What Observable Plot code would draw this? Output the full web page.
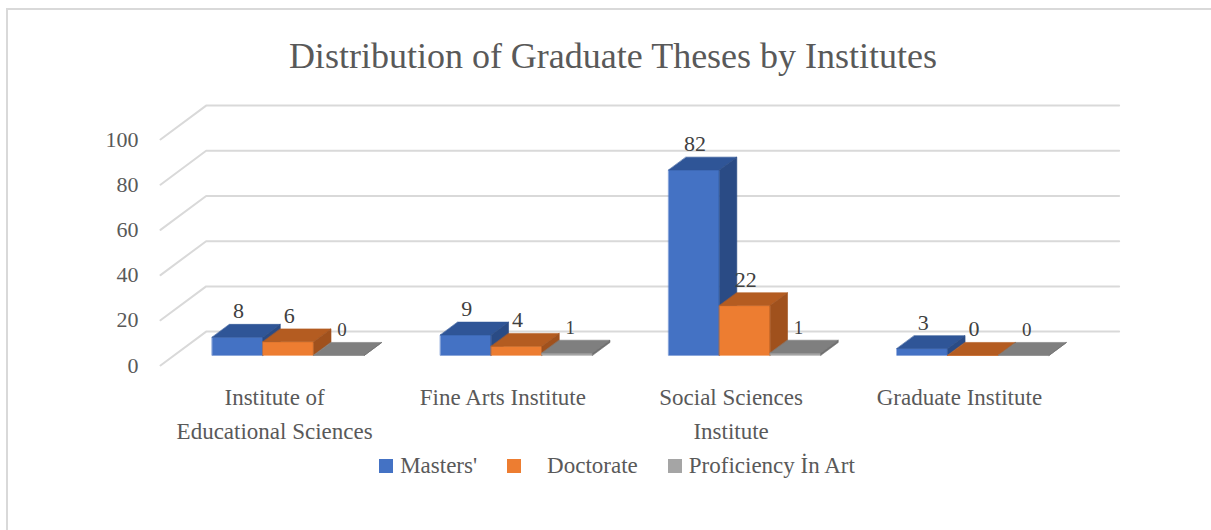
<!DOCTYPE html>
<html><head><meta charset="utf-8">
<script src="https://cdn.jsdelivr.net/npm/d3@7"></script>
<script src="https://cdn.jsdelivr.net/npm/@observablehq/plot@0.6"></script>
<style>
html,body{margin:0;padding:0;background:#fff;width:1211px;height:530px;overflow:hidden;}
*{font-family:"Liberation Serif","DejaVu Serif",serif;}
#frame{position:absolute;left:6px;top:8px;width:1300px;height:600px;border-left:2px solid #d9d9d9;border-top:2px solid #d9d9d9;box-sizing:border-box;}
#title{position:absolute;left:0;width:1226px;top:35px;text-align:center;font-size:36px;line-height:42px;color:#595959;}
#chart{position:absolute;left:0;top:90px;}
#legend{position:absolute;left:0;width:1234px;top:454px;height:24px;display:flex;justify-content:center;align-items:center;font-size:23px;color:#595959;}
.sw{width:14px;height:14px;display:inline-block;margin-right:7px;}
.item{display:flex;align-items:center;margin:0 15px;}
</style></head>
<body>
<div id="frame"></div>
<div id="title">Distribution of Graduate Theses by Institutes</div>
<div id="chart"></div>
<div id="legend"></div>
<script>
// ---- data ----
const categories = ["Institute of\nEducational Sciences", "Fine Arts Institute", "Social Sciences\nInstitute", "Graduate Institute"];
const seriesNames = ["Masters'", "Doctorate", "Proficiency İn Art"];
const masters = [8, 9, 82, 3];
const doctorate = [6, 4, 22, 0];
const proficiency = [0, 1, 1, 0];
const yTicks = [0, 20, 40, 60, 80, 100];

// ---- styles ----
const SERIF = "'Liberation Serif', 'DejaVu Serif', serif";
const SANS = "'Liberation Sans', 'DejaVu Sans', sans-serif";
const frontColors = ["#4472C4", "#ED7D31", "#A5A5A5"];
const topColors = ["#2F5597", "#B45C21", "#7F7F7F"];
const sideColors = ["#2A4B85", "#A0511D", "#6F6F6F"];

const seriesValues = [masters, doctorate, proficiency];

// oblique projection: depth d in [0,1] shifts x (category units) and y (value units)
const DX = 0.2, DY = 15;
const F1 = 0.3, F2 = 0.68;
const P = (x, v, d) => ({x: x + d * DX, y: v + d * DY});

const polys = [];
const labels = [];
let pid = 0;
categories.forEach((c, i) => {
  seriesValues.forEach((vals, j) => {
    const v = vals[i];
    const x0 = i + 1/6 + j * 2/9, x1 = x0 + 2/9;
    const add = (pts, fill) => { pid++; pts.forEach(p => polys.push({...p, id: pid, fill})); };
    add([P(x0,0,F1), P(x1,0,F1), P(x1,v,F1), P(x0,v,F1)], frontColors[j]);
    add([P(x0,v,F1), P(x1,v,F1), P(x1,v,F2), P(x0,v,F2)], topColors[j]);
    add([P(x1,0,F1), P(x1,0,F2), P(x1,v,F2), P(x1,v,F1)], sideColors[j]);
    const q = P((x0 + x1) / 2, v, F1);
    labels.push({x: q.x, y: q.y, text: String(v), j});
  });
});

const grid = [];
yTicks.forEach(t => { [P(0,t,0), P(0,t,1), P(4,t,1)].forEach(p => grid.push({...p, t})); });

const catLines = [];
categories.forEach((c, i) => c.split("\n").forEach((s, k) => catLines.push({x: i + 0.5, y: 0, text: s, k})));

const chart = Plot.plot({
  width: 1211, height: 355,
  marginLeft: 160, marginRight: 0, marginTop: 0, marginBottom: 0,
  x: {domain: [0, 4], range: [160, 1073], axis: null},
  y: {domain: [0, 100], range: [275, 49]},
  color: {type: "identity"},
  style: {fontFamily: SERIF, fontSize: "22px", color: "#595959", background: "transparent", overflow: "visible"},
  marks: [
    Plot.line(grid, {x: "x", y: "y", z: "t", stroke: "#d9d9d9", strokeWidth: 2}),
    Plot.axisY(yTicks, {anchor: "left", label: null, tickSize: 0, tickPadding: 22, fontSize: 22, fill: "#595959", fontFamily: SERIF}),
    Plot.line(polys, {x: "x", y: "y", z: "id", fill: "fill", stroke: "fill", strokeWidth: 0.6, curve: "linear-closed"}),
    Plot.text(labels.filter(d => d.j < 2), {x: "x", y: "y", text: "text", dy: -26, dx: 1, fontSize: 22, fill: "#404040", fontFamily: SERIF}),
    Plot.text(labels.filter(d => d.j === 2), {x: "x", y: "y", text: "text", dy: -25, dx: 3, fontSize: 19, fill: "#404040", fontFamily: SANS}),
    Plot.text(catLines.filter(d => d.k === 0), {x: "x", y: "y", text: "text", dy: 32, fontSize: 23, fill: "#595959", fontFamily: SERIF}),
    Plot.text(catLines.filter(d => d.k === 1), {x: "x", y: "y", text: "text", dy: 66, fontSize: 23, fill: "#595959", fontFamily: SERIF})
  ]
});
document.getElementById("chart").appendChild(chart);

const legend = document.getElementById("legend");
seriesNames.forEach((name, j) => {
  const it = document.createElement("div");
  it.className = "item";
  const sw = document.createElement("span");
  sw.className = "sw";
  sw.style.background = frontColors[j];
  if (j === 1) sw.style.marginRight = "26px";
  const tx = document.createElement("span");
  tx.textContent = name;
  it.appendChild(sw); it.appendChild(tx);
  legend.appendChild(it);
});
</script>
</body></html>
